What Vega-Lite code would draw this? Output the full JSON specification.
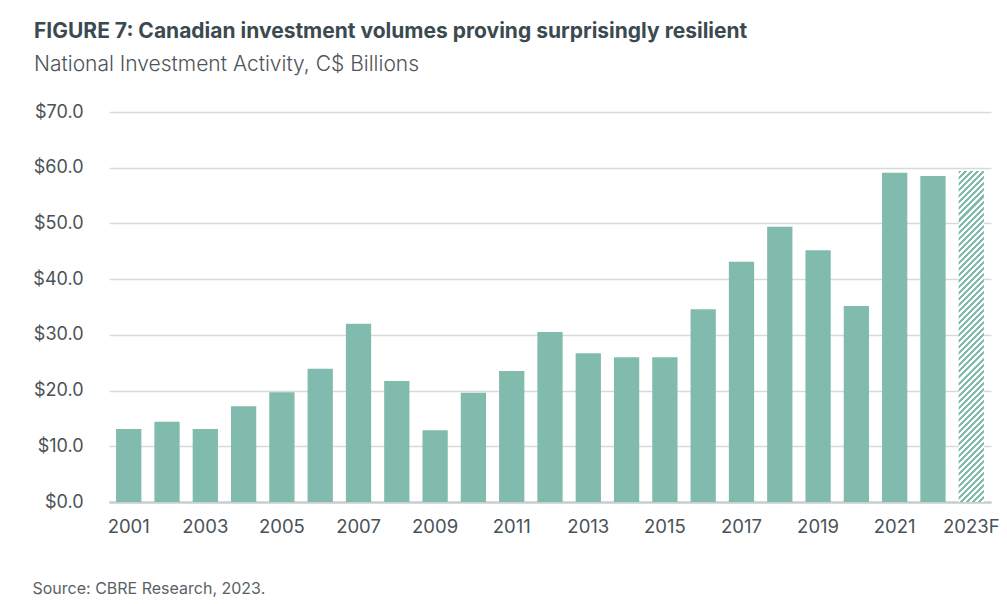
{
  "$schema": "https://vega.github.io/schema/vega-lite/v6.json",
  "width": 882,
  "height": 390,
  "autosize": "none",
  "padding": {"left": 109, "top": 112, "right": 16, "bottom": 102},
  "background": "#ffffff",
  "title": {
    "text": "FIGURE 7: Canadian investment volumes proving surprisingly resilient",
    "subtitle": "National Investment Activity, C$ Billions",
    "anchor": "start",
    "frame": "group",
    "dx": -75,
    "offset": 28,
    "font": "Inter",
    "fontSize": 21,
    "fontWeight": "bold",
    "color": "#3b4a50",
    "subtitleFont": "Inter",
    "subtitleFontSize": 21,
    "subtitleFontWeight": 300,
    "subtitleColor": "#4d5459",
    "subtitlePadding": 12
  },
  "config": {
    "view": {"stroke": null},
    "axis": {"labelFont": "Inter", "titleFont": "Inter"}
  },
  "data": {
    "values": [
      {"year": "2001", "value": 13.1},
      {"year": "2002", "value": 14.4},
      {"year": "2003", "value": 13.1},
      {"year": "2004", "value": 17.2},
      {"year": "2005", "value": 19.7},
      {"year": "2006", "value": 23.9},
      {"year": "2007", "value": 32.0},
      {"year": "2008", "value": 21.7},
      {"year": "2009", "value": 12.9},
      {"year": "2010", "value": 19.6},
      {"year": "2011", "value": 23.5},
      {"year": "2012", "value": 30.5},
      {"year": "2013", "value": 26.7},
      {"year": "2014", "value": 26.0},
      {"year": "2015", "value": 26.0},
      {"year": "2016", "value": 34.6},
      {"year": "2017", "value": 43.1},
      {"year": "2018", "value": 49.4},
      {"year": "2019", "value": 45.2},
      {"year": "2020", "value": 35.2},
      {"year": "2021", "value": 59.1},
      {"year": "2022", "value": 58.5},
      {"year": "2023F", "value": 59.4}
    ]
  },
  "mark": {"type": "bar"},
  "encoding": {
    "x": {
      "field": "year",
      "type": "ordinal",
      "sort": null,
      "scale": {"paddingInner": 0.34, "paddingOuter": 0.185},
      "axis": {
        "values": ["2001","2003","2005","2007","2009","2011","2013","2015","2017","2019","2021","2023F"],
        "labelAngle": 0,
        "labelFontSize": 18.5,
        "labelColor": "#4a5258",
        "labelPadding": 15,
        "ticks": false,
        "domain": true,
        "domainColor": "#c8cfcf",
        "domainWidth": 2.5,
        "grid": false,
        "title": "Source: CBRE Research, 2023.",
        "titleX": -77,
        "titleY": 91,
        "titleAlign": "left",
        "titleAnchor": "start",
        "titleBaseline": "alphabetic",
        "titleFontSize": 16,
        "titleFontWeight": "normal",
        "titleColor": "#5a6166"
      }
    },
    "y": {
      "field": "value",
      "type": "quantitative",
      "scale": {"domain": [0, 70]},
      "axis": {
        "values": [0, 10, 20, 30, 40, 50, 60, 70],
        "labelExpr": "'$' + format(datum.value, '.1f')",
        "labelFontSize": 18,
        "labelColor": "#4a5258",
        "labelPadding": 26,
        "ticks": false,
        "domain": false,
        "grid": true,
        "gridColor": "#d5dbdb",
        "gridWidth": 1.5,
        "title": null
      }
    },
    "color": {
      "condition": {
        "test": "datum.year === '2023F'",
        "value": {
          "gradient": "linear",
          "x1": 0, "y1": 0, "x2": 0.08175, "y2": 1.07016,
          "stops": [
            {"offset": 0, "color": "#80bbad"},{"offset": 0.0085, "color": "#80bbad"},{"offset": 0.0085, "color": "#ffffff"},{"offset": 0.0169, "color": "#ffffff"},
            {"offset": 0.0169, "color": "#80bbad"},{"offset": 0.0254, "color": "#80bbad"},{"offset": 0.0254, "color": "#ffffff"},{"offset": 0.0339, "color": "#ffffff"},
            {"offset": 0.0339, "color": "#80bbad"},{"offset": 0.0424, "color": "#80bbad"},{"offset": 0.0424, "color": "#ffffff"},{"offset": 0.0508, "color": "#ffffff"},
            {"offset": 0.0508, "color": "#80bbad"},{"offset": 0.0593, "color": "#80bbad"},{"offset": 0.0593, "color": "#ffffff"},{"offset": 0.0678, "color": "#ffffff"},
            {"offset": 0.0678, "color": "#80bbad"},{"offset": 0.0763, "color": "#80bbad"},{"offset": 0.0763, "color": "#ffffff"},{"offset": 0.0847, "color": "#ffffff"},
            {"offset": 0.0847, "color": "#80bbad"},{"offset": 0.0932, "color": "#80bbad"},{"offset": 0.0932, "color": "#ffffff"},{"offset": 0.1017, "color": "#ffffff"},
            {"offset": 0.1017, "color": "#80bbad"},{"offset": 0.1102, "color": "#80bbad"},{"offset": 0.1102, "color": "#ffffff"},{"offset": 0.1186, "color": "#ffffff"},
            {"offset": 0.1186, "color": "#80bbad"},{"offset": 0.1271, "color": "#80bbad"},{"offset": 0.1271, "color": "#ffffff"},{"offset": 0.1356, "color": "#ffffff"},
            {"offset": 0.1356, "color": "#80bbad"},{"offset": 0.1441, "color": "#80bbad"},{"offset": 0.1441, "color": "#ffffff"},{"offset": 0.1525, "color": "#ffffff"},
            {"offset": 0.1525, "color": "#80bbad"},{"offset": 0.1610, "color": "#80bbad"},{"offset": 0.1610, "color": "#ffffff"},{"offset": 0.1695, "color": "#ffffff"},
            {"offset": 0.1695, "color": "#80bbad"},{"offset": 0.1780, "color": "#80bbad"},{"offset": 0.1780, "color": "#ffffff"},{"offset": 0.1864, "color": "#ffffff"},
            {"offset": 0.1864, "color": "#80bbad"},{"offset": 0.1949, "color": "#80bbad"},{"offset": 0.1949, "color": "#ffffff"},{"offset": 0.2034, "color": "#ffffff"},
            {"offset": 0.2034, "color": "#80bbad"},{"offset": 0.2119, "color": "#80bbad"},{"offset": 0.2119, "color": "#ffffff"},{"offset": 0.2203, "color": "#ffffff"},
            {"offset": 0.2203, "color": "#80bbad"},{"offset": 0.2288, "color": "#80bbad"},{"offset": 0.2288, "color": "#ffffff"},{"offset": 0.2373, "color": "#ffffff"},
            {"offset": 0.2373, "color": "#80bbad"},{"offset": 0.2458, "color": "#80bbad"},{"offset": 0.2458, "color": "#ffffff"},{"offset": 0.2542, "color": "#ffffff"},
            {"offset": 0.2542, "color": "#80bbad"},{"offset": 0.2627, "color": "#80bbad"},{"offset": 0.2627, "color": "#ffffff"},{"offset": 0.2712, "color": "#ffffff"},
            {"offset": 0.2712, "color": "#80bbad"},{"offset": 0.2797, "color": "#80bbad"},{"offset": 0.2797, "color": "#ffffff"},{"offset": 0.2881, "color": "#ffffff"},
            {"offset": 0.2881, "color": "#80bbad"},{"offset": 0.2966, "color": "#80bbad"},{"offset": 0.2966, "color": "#ffffff"},{"offset": 0.3051, "color": "#ffffff"},
            {"offset": 0.3051, "color": "#80bbad"},{"offset": 0.3136, "color": "#80bbad"},{"offset": 0.3136, "color": "#ffffff"},{"offset": 0.3220, "color": "#ffffff"},
            {"offset": 0.3220, "color": "#80bbad"},{"offset": 0.3305, "color": "#80bbad"},{"offset": 0.3305, "color": "#ffffff"},{"offset": 0.3390, "color": "#ffffff"},
            {"offset": 0.3390, "color": "#80bbad"},{"offset": 0.3475, "color": "#80bbad"},{"offset": 0.3475, "color": "#ffffff"},{"offset": 0.3559, "color": "#ffffff"},
            {"offset": 0.3559, "color": "#80bbad"},{"offset": 0.3644, "color": "#80bbad"},{"offset": 0.3644, "color": "#ffffff"},{"offset": 0.3729, "color": "#ffffff"},
            {"offset": 0.3729, "color": "#80bbad"},{"offset": 0.3814, "color": "#80bbad"},{"offset": 0.3814, "color": "#ffffff"},{"offset": 0.3898, "color": "#ffffff"},
            {"offset": 0.3898, "color": "#80bbad"},{"offset": 0.3983, "color": "#80bbad"},{"offset": 0.3983, "color": "#ffffff"},{"offset": 0.4068, "color": "#ffffff"},
            {"offset": 0.4068, "color": "#80bbad"},{"offset": 0.4153, "color": "#80bbad"},{"offset": 0.4153, "color": "#ffffff"},{"offset": 0.4237, "color": "#ffffff"},
            {"offset": 0.4237, "color": "#80bbad"},{"offset": 0.4322, "color": "#80bbad"},{"offset": 0.4322, "color": "#ffffff"},{"offset": 0.4407, "color": "#ffffff"},
            {"offset": 0.4407, "color": "#80bbad"},{"offset": 0.4492, "color": "#80bbad"},{"offset": 0.4492, "color": "#ffffff"},{"offset": 0.4576, "color": "#ffffff"},
            {"offset": 0.4576, "color": "#80bbad"},{"offset": 0.4661, "color": "#80bbad"},{"offset": 0.4661, "color": "#ffffff"},{"offset": 0.4746, "color": "#ffffff"},
            {"offset": 0.4746, "color": "#80bbad"},{"offset": 0.4831, "color": "#80bbad"},{"offset": 0.4831, "color": "#ffffff"},{"offset": 0.4915, "color": "#ffffff"},
            {"offset": 0.4915, "color": "#80bbad"},{"offset": 0.5000, "color": "#80bbad"},{"offset": 0.5000, "color": "#ffffff"},{"offset": 0.5085, "color": "#ffffff"},
            {"offset": 0.5085, "color": "#80bbad"},{"offset": 0.5169, "color": "#80bbad"},{"offset": 0.5169, "color": "#ffffff"},{"offset": 0.5254, "color": "#ffffff"},
            {"offset": 0.5254, "color": "#80bbad"},{"offset": 0.5339, "color": "#80bbad"},{"offset": 0.5339, "color": "#ffffff"},{"offset": 0.5424, "color": "#ffffff"},
            {"offset": 0.5424, "color": "#80bbad"},{"offset": 0.5508, "color": "#80bbad"},{"offset": 0.5508, "color": "#ffffff"},{"offset": 0.5593, "color": "#ffffff"},
            {"offset": 0.5593, "color": "#80bbad"},{"offset": 0.5678, "color": "#80bbad"},{"offset": 0.5678, "color": "#ffffff"},{"offset": 0.5763, "color": "#ffffff"},
            {"offset": 0.5763, "color": "#80bbad"},{"offset": 0.5847, "color": "#80bbad"},{"offset": 0.5847, "color": "#ffffff"},{"offset": 0.5932, "color": "#ffffff"},
            {"offset": 0.5932, "color": "#80bbad"},{"offset": 0.6017, "color": "#80bbad"},{"offset": 0.6017, "color": "#ffffff"},{"offset": 0.6102, "color": "#ffffff"},
            {"offset": 0.6102, "color": "#80bbad"},{"offset": 0.6186, "color": "#80bbad"},{"offset": 0.6186, "color": "#ffffff"},{"offset": 0.6271, "color": "#ffffff"},
            {"offset": 0.6271, "color": "#80bbad"},{"offset": 0.6356, "color": "#80bbad"},{"offset": 0.6356, "color": "#ffffff"},{"offset": 0.6441, "color": "#ffffff"},
            {"offset": 0.6441, "color": "#80bbad"},{"offset": 0.6525, "color": "#80bbad"},{"offset": 0.6525, "color": "#ffffff"},{"offset": 0.6610, "color": "#ffffff"},
            {"offset": 0.6610, "color": "#80bbad"},{"offset": 0.6695, "color": "#80bbad"},{"offset": 0.6695, "color": "#ffffff"},{"offset": 0.6780, "color": "#ffffff"},
            {"offset": 0.6780, "color": "#80bbad"},{"offset": 0.6864, "color": "#80bbad"},{"offset": 0.6864, "color": "#ffffff"},{"offset": 0.6949, "color": "#ffffff"},
            {"offset": 0.6949, "color": "#80bbad"},{"offset": 0.7034, "color": "#80bbad"},{"offset": 0.7034, "color": "#ffffff"},{"offset": 0.7119, "color": "#ffffff"},
            {"offset": 0.7119, "color": "#80bbad"},{"offset": 0.7203, "color": "#80bbad"},{"offset": 0.7203, "color": "#ffffff"},{"offset": 0.7288, "color": "#ffffff"},
            {"offset": 0.7288, "color": "#80bbad"},{"offset": 0.7373, "color": "#80bbad"},{"offset": 0.7373, "color": "#ffffff"},{"offset": 0.7458, "color": "#ffffff"},
            {"offset": 0.7458, "color": "#80bbad"},{"offset": 0.7542, "color": "#80bbad"},{"offset": 0.7542, "color": "#ffffff"},{"offset": 0.7627, "color": "#ffffff"},
            {"offset": 0.7627, "color": "#80bbad"},{"offset": 0.7712, "color": "#80bbad"},{"offset": 0.7712, "color": "#ffffff"},{"offset": 0.7797, "color": "#ffffff"},
            {"offset": 0.7797, "color": "#80bbad"},{"offset": 0.7881, "color": "#80bbad"},{"offset": 0.7881, "color": "#ffffff"},{"offset": 0.7966, "color": "#ffffff"},
            {"offset": 0.7966, "color": "#80bbad"},{"offset": 0.8051, "color": "#80bbad"},{"offset": 0.8051, "color": "#ffffff"},{"offset": 0.8136, "color": "#ffffff"},
            {"offset": 0.8136, "color": "#80bbad"},{"offset": 0.8220, "color": "#80bbad"},{"offset": 0.8220, "color": "#ffffff"},{"offset": 0.8305, "color": "#ffffff"},
            {"offset": 0.8305, "color": "#80bbad"},{"offset": 0.8390, "color": "#80bbad"},{"offset": 0.8390, "color": "#ffffff"},{"offset": 0.8475, "color": "#ffffff"},
            {"offset": 0.8475, "color": "#80bbad"},{"offset": 0.8559, "color": "#80bbad"},{"offset": 0.8559, "color": "#ffffff"},{"offset": 0.8644, "color": "#ffffff"},
            {"offset": 0.8644, "color": "#80bbad"},{"offset": 0.8729, "color": "#80bbad"},{"offset": 0.8729, "color": "#ffffff"},{"offset": 0.8814, "color": "#ffffff"},
            {"offset": 0.8814, "color": "#80bbad"},{"offset": 0.8898, "color": "#80bbad"},{"offset": 0.8898, "color": "#ffffff"},{"offset": 0.8983, "color": "#ffffff"},
            {"offset": 0.8983, "color": "#80bbad"},{"offset": 0.9068, "color": "#80bbad"},{"offset": 0.9068, "color": "#ffffff"},{"offset": 0.9153, "color": "#ffffff"},
            {"offset": 0.9153, "color": "#80bbad"},{"offset": 0.9237, "color": "#80bbad"},{"offset": 0.9237, "color": "#ffffff"},{"offset": 0.9322, "color": "#ffffff"},
            {"offset": 0.9322, "color": "#80bbad"},{"offset": 0.9407, "color": "#80bbad"},{"offset": 0.9407, "color": "#ffffff"},{"offset": 0.9492, "color": "#ffffff"},
            {"offset": 0.9492, "color": "#80bbad"},{"offset": 0.9576, "color": "#80bbad"},{"offset": 0.9576, "color": "#ffffff"},{"offset": 0.9661, "color": "#ffffff"},
            {"offset": 0.9661, "color": "#80bbad"},{"offset": 0.9746, "color": "#80bbad"},{"offset": 0.9746, "color": "#ffffff"},{"offset": 0.9831, "color": "#ffffff"},
            {"offset": 0.9831, "color": "#80bbad"},{"offset": 0.9915, "color": "#80bbad"},{"offset": 0.9915, "color": "#ffffff"},{"offset": 1, "color": "#ffffff"}
          ]
        }
      },
      "value": "#80bbad"
    }
  }
}
